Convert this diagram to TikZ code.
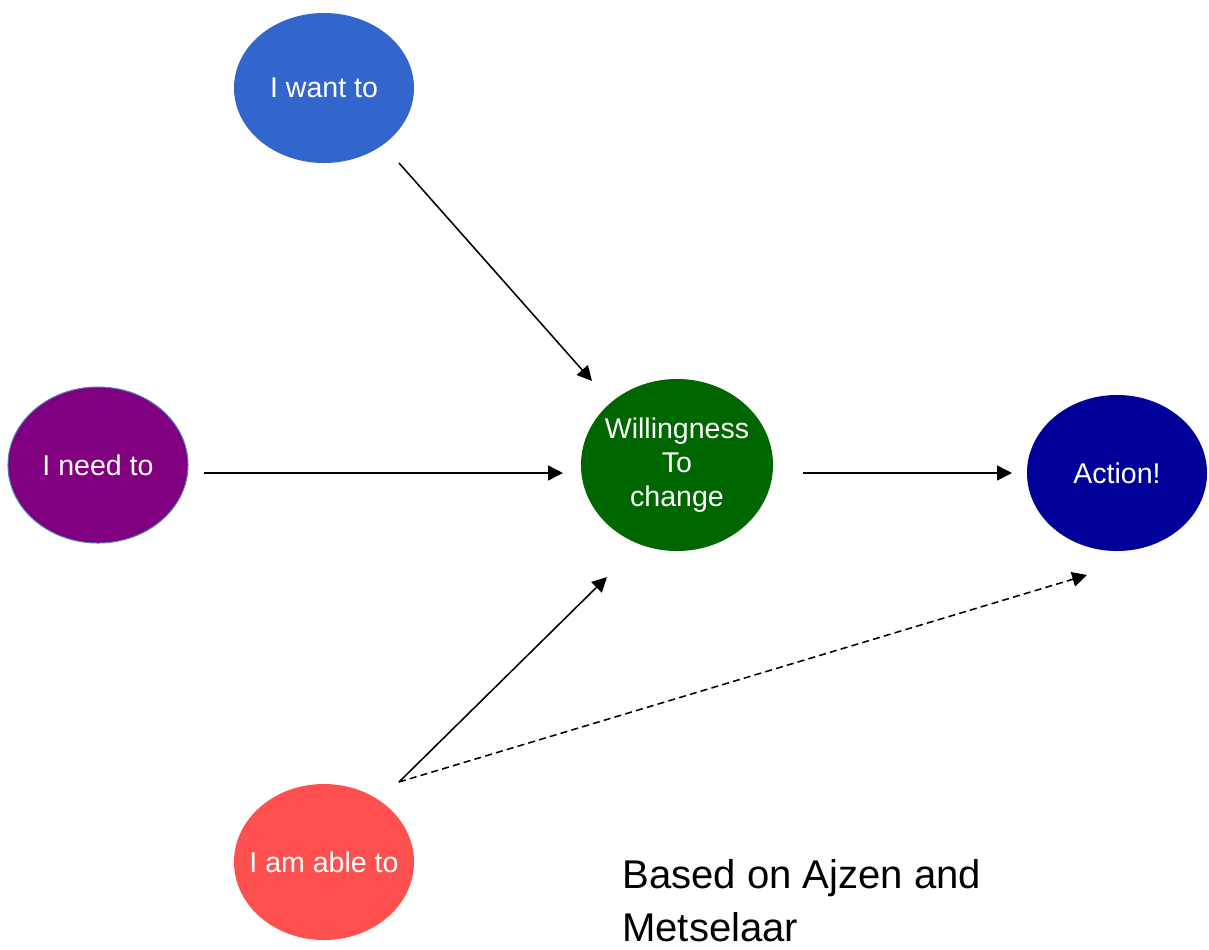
\documentclass[tikz,border=0pt]{standalone}
\usepackage{fontspec}
\setmainfont{Liberation Sans}
\usetikzlibrary{shapes.geometric,arrows.meta,calc}
\definecolor{wantblue}{HTML}{3366CC}
\definecolor{needpurple}{HTML}{800080}
\definecolor{needrim}{HTML}{4F81BD}
\definecolor{willgreen}{HTML}{006600}
\definecolor{actionblue}{HTML}{000099}
\definecolor{ablered}{HTML}{FF5050}
\begin{document}
\begin{tikzpicture}[x=0.025cm,y=-0.025cm,
    bubble/.style={shape=ellipse,fill=#1,draw=none,text=white,inner xsep=-1cm,inner ysep=0pt,outer sep=0pt,
      minimum width=4.5cm,minimum height=3.9cm,align=center,font=\fontsize{20.3}{24}\selectfont},
    arr/.style={line width=1.1pt,-{Triangle[length=10.5pt,width=10.5pt]}},]
        \useasboundingbox (0,0) rectangle (1209,949);
        % the five ellipses
        \node[bubble=wantblue,minimum height=3.75cm] (want) at (324,88) {I want to};
        \node[bubble=needpurple,draw=needrim,line width=0.7pt] (need) at (98,465) {I need to};
        \node[bubble=willgreen,minimum width=4.8cm,minimum height=4.3cm] (willing) at (677,465) {Willingness\\To\\change};
        \node[bubble=actionblue] (action) at (1117,473) {Action!};
        \node[bubble=ablered] (able) at (324,862) {I am able to};
        \draw[arr] ($(want)+(75,75)$) -- ($(willing)+(-85,-84)$);
        \draw[arr] ($(need.east)+(16,8)$) -- ($(willing.west)+(-18,8)$);
        \draw[arr] ($(willing.east)+(30,8)$) -- ($(action.west)+(-15,0)$);
        \draw[arr] ($(able)+(75,-80)$) -- ($(willing)+(-70,112)$);
        \draw[arr,dash pattern=on 5pt off 3pt] ($(able)+(75,-80)$) -- ($(action)+(-30,102)$);
        \node[anchor=north west,inner sep=0pt,align=left,font=\fontsize{28.5}{37.5}\selectfont] (source) at (622,859) {Based on Ajzen and\\Metselaar};
      \end{tikzpicture}
\end{document}
